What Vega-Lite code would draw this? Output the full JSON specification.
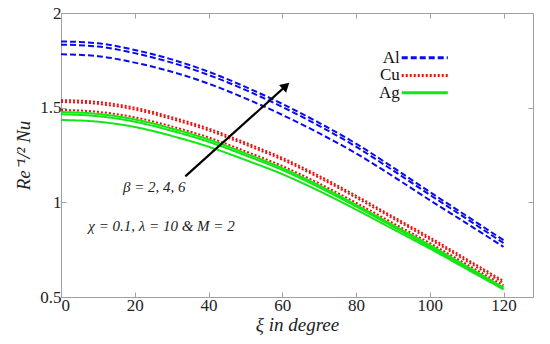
{
  "$schema": "https://vega.github.io/schema/vega-lite/v6.json",
  "width": 472,
  "height": 284,
  "autosize": {"type": "none"},
  "padding": {"left": 61, "top": 13, "right": 17, "bottom": 47},
  "background": "white",
  "config": {
    "view": {"stroke": null}
  },
  "datasets": {
    "curves": [
      {"xi": 0, "Nu": 1.85, "metal": "Al", "beta": 6},
      {"xi": 10, "Nu": 1.84, "metal": "Al", "beta": 6},
      {"xi": 20, "Nu": 1.805, "metal": "Al", "beta": 6},
      {"xi": 30, "Nu": 1.755, "metal": "Al", "beta": 6},
      {"xi": 40, "Nu": 1.69, "metal": "Al", "beta": 6},
      {"xi": 50, "Nu": 1.61, "metal": "Al", "beta": 6},
      {"xi": 60, "Nu": 1.52, "metal": "Al", "beta": 6},
      {"xi": 70, "Nu": 1.42, "metal": "Al", "beta": 6},
      {"xi": 80, "Nu": 1.31, "metal": "Al", "beta": 6},
      {"xi": 90, "Nu": 1.185, "metal": "Al", "beta": 6},
      {"xi": 100, "Nu": 1.055, "metal": "Al", "beta": 6},
      {"xi": 110, "Nu": 0.928, "metal": "Al", "beta": 6},
      {"xi": 120, "Nu": 0.8, "metal": "Al", "beta": 6},
      {"xi": 0, "Nu": 1.833, "metal": "Al", "beta": 4},
      {"xi": 10, "Nu": 1.823, "metal": "Al", "beta": 4},
      {"xi": 20, "Nu": 1.788, "metal": "Al", "beta": 4},
      {"xi": 30, "Nu": 1.738, "metal": "Al", "beta": 4},
      {"xi": 40, "Nu": 1.673, "metal": "Al", "beta": 4},
      {"xi": 50, "Nu": 1.594, "metal": "Al", "beta": 4},
      {"xi": 60, "Nu": 1.504, "metal": "Al", "beta": 4},
      {"xi": 70, "Nu": 1.404, "metal": "Al", "beta": 4},
      {"xi": 80, "Nu": 1.294, "metal": "Al", "beta": 4},
      {"xi": 90, "Nu": 1.169, "metal": "Al", "beta": 4},
      {"xi": 100, "Nu": 1.04, "metal": "Al", "beta": 4},
      {"xi": 110, "Nu": 0.913, "metal": "Al", "beta": 4},
      {"xi": 120, "Nu": 0.785, "metal": "Al", "beta": 4},
      {"xi": 0, "Nu": 1.782, "metal": "Al", "beta": 2},
      {"xi": 10, "Nu": 1.772, "metal": "Al", "beta": 2},
      {"xi": 20, "Nu": 1.738, "metal": "Al", "beta": 2},
      {"xi": 30, "Nu": 1.69, "metal": "Al", "beta": 2},
      {"xi": 40, "Nu": 1.627, "metal": "Al", "beta": 2},
      {"xi": 50, "Nu": 1.549, "metal": "Al", "beta": 2},
      {"xi": 60, "Nu": 1.462, "metal": "Al", "beta": 2},
      {"xi": 70, "Nu": 1.365, "metal": "Al", "beta": 2},
      {"xi": 80, "Nu": 1.259, "metal": "Al", "beta": 2},
      {"xi": 90, "Nu": 1.138, "metal": "Al", "beta": 2},
      {"xi": 100, "Nu": 1.012, "metal": "Al", "beta": 2},
      {"xi": 110, "Nu": 0.889, "metal": "Al", "beta": 2},
      {"xi": 120, "Nu": 0.765, "metal": "Al", "beta": 2},
      {"xi": 0, "Nu": 1.54, "metal": "Cu", "beta": 6},
      {"xi": 10, "Nu": 1.53, "metal": "Cu", "beta": 6},
      {"xi": 20, "Nu": 1.5, "metal": "Cu", "beta": 6},
      {"xi": 30, "Nu": 1.45, "metal": "Cu", "beta": 6},
      {"xi": 40, "Nu": 1.39, "metal": "Cu", "beta": 6},
      {"xi": 50, "Nu": 1.315, "metal": "Cu", "beta": 6},
      {"xi": 60, "Nu": 1.235, "metal": "Cu", "beta": 6},
      {"xi": 70, "Nu": 1.14, "metal": "Cu", "beta": 6},
      {"xi": 80, "Nu": 1.035, "metal": "Cu", "beta": 6},
      {"xi": 90, "Nu": 0.925, "metal": "Cu", "beta": 6},
      {"xi": 100, "Nu": 0.815, "metal": "Cu", "beta": 6},
      {"xi": 110, "Nu": 0.7, "metal": "Cu", "beta": 6},
      {"xi": 120, "Nu": 0.585, "metal": "Cu", "beta": 6},
      {"xi": 0, "Nu": 1.53, "metal": "Cu", "beta": 4},
      {"xi": 10, "Nu": 1.52, "metal": "Cu", "beta": 4},
      {"xi": 20, "Nu": 1.49, "metal": "Cu", "beta": 4},
      {"xi": 30, "Nu": 1.44, "metal": "Cu", "beta": 4},
      {"xi": 40, "Nu": 1.38, "metal": "Cu", "beta": 4},
      {"xi": 50, "Nu": 1.305, "metal": "Cu", "beta": 4},
      {"xi": 60, "Nu": 1.225, "metal": "Cu", "beta": 4},
      {"xi": 70, "Nu": 1.13, "metal": "Cu", "beta": 4},
      {"xi": 80, "Nu": 1.025, "metal": "Cu", "beta": 4},
      {"xi": 90, "Nu": 0.915, "metal": "Cu", "beta": 4},
      {"xi": 100, "Nu": 0.805, "metal": "Cu", "beta": 4},
      {"xi": 110, "Nu": 0.69, "metal": "Cu", "beta": 4},
      {"xi": 120, "Nu": 0.575, "metal": "Cu", "beta": 4},
      {"xi": 0, "Nu": 1.488, "metal": "Cu", "beta": 2},
      {"xi": 10, "Nu": 1.478, "metal": "Cu", "beta": 2},
      {"xi": 20, "Nu": 1.449, "metal": "Cu", "beta": 2},
      {"xi": 30, "Nu": 1.401, "metal": "Cu", "beta": 2},
      {"xi": 40, "Nu": 1.343, "metal": "Cu", "beta": 2},
      {"xi": 50, "Nu": 1.27, "metal": "Cu", "beta": 2},
      {"xi": 60, "Nu": 1.192, "metal": "Cu", "beta": 2},
      {"xi": 70, "Nu": 1.1, "metal": "Cu", "beta": 2},
      {"xi": 80, "Nu": 0.998, "metal": "Cu", "beta": 2},
      {"xi": 90, "Nu": 0.891, "metal": "Cu", "beta": 2},
      {"xi": 100, "Nu": 0.785, "metal": "Cu", "beta": 2},
      {"xi": 110, "Nu": 0.673, "metal": "Cu", "beta": 2},
      {"xi": 120, "Nu": 0.562, "metal": "Cu", "beta": 2},
      {"xi": 0, "Nu": 1.477, "metal": "Ag", "beta": 6},
      {"xi": 10, "Nu": 1.467, "metal": "Ag", "beta": 6},
      {"xi": 20, "Nu": 1.438, "metal": "Ag", "beta": 6},
      {"xi": 30, "Nu": 1.39, "metal": "Ag", "beta": 6},
      {"xi": 40, "Nu": 1.332, "metal": "Ag", "beta": 6},
      {"xi": 50, "Nu": 1.259, "metal": "Ag", "beta": 6},
      {"xi": 60, "Nu": 1.181, "metal": "Ag", "beta": 6},
      {"xi": 70, "Nu": 1.089, "metal": "Ag", "beta": 6},
      {"xi": 80, "Nu": 0.987, "metal": "Ag", "beta": 6},
      {"xi": 90, "Nu": 0.88, "metal": "Ag", "beta": 6},
      {"xi": 100, "Nu": 0.774, "metal": "Ag", "beta": 6},
      {"xi": 110, "Nu": 0.662, "metal": "Ag", "beta": 6},
      {"xi": 120, "Nu": 0.551, "metal": "Ag", "beta": 6},
      {"xi": 0, "Nu": 1.465, "metal": "Ag", "beta": 4},
      {"xi": 10, "Nu": 1.455, "metal": "Ag", "beta": 4},
      {"xi": 20, "Nu": 1.426, "metal": "Ag", "beta": 4},
      {"xi": 30, "Nu": 1.378, "metal": "Ag", "beta": 4},
      {"xi": 40, "Nu": 1.32, "metal": "Ag", "beta": 4},
      {"xi": 50, "Nu": 1.248, "metal": "Ag", "beta": 4},
      {"xi": 60, "Nu": 1.171, "metal": "Ag", "beta": 4},
      {"xi": 70, "Nu": 1.079, "metal": "Ag", "beta": 4},
      {"xi": 80, "Nu": 0.978, "metal": "Ag", "beta": 4},
      {"xi": 90, "Nu": 0.872, "metal": "Ag", "beta": 4},
      {"xi": 100, "Nu": 0.765, "metal": "Ag", "beta": 4},
      {"xi": 110, "Nu": 0.654, "metal": "Ag", "beta": 4},
      {"xi": 120, "Nu": 0.543, "metal": "Ag", "beta": 4},
      {"xi": 0, "Nu": 1.435, "metal": "Ag", "beta": 2},
      {"xi": 10, "Nu": 1.426, "metal": "Ag", "beta": 2},
      {"xi": 20, "Nu": 1.398, "metal": "Ag", "beta": 2},
      {"xi": 30, "Nu": 1.351, "metal": "Ag", "beta": 2},
      {"xi": 40, "Nu": 1.294, "metal": "Ag", "beta": 2},
      {"xi": 50, "Nu": 1.224, "metal": "Ag", "beta": 2},
      {"xi": 60, "Nu": 1.149, "metal": "Ag", "beta": 2},
      {"xi": 70, "Nu": 1.06, "metal": "Ag", "beta": 2},
      {"xi": 80, "Nu": 0.962, "metal": "Ag", "beta": 2},
      {"xi": 90, "Nu": 0.859, "metal": "Ag", "beta": 2},
      {"xi": 100, "Nu": 0.756, "metal": "Ag", "beta": 2},
      {"xi": 110, "Nu": 0.648, "metal": "Ag", "beta": 2},
      {"xi": 120, "Nu": 0.54, "metal": "Ag", "beta": 2}
    ],
    "legend": [
      {"metal": "Al", "x1": 92.4, "x2": 104.9, "y": 1.763},
      {"metal": "Cu", "x1": 92.4, "x2": 104.9, "y": 1.67},
      {"metal": "Ag", "x1": 92.4, "x2": 104.9, "y": 1.579}
    ],
    "arrow": [
      {"x1": 33.7, "y1": 1.137, "x2": 61.0, "y2": 1.615}
    ],
    "head": [
      {"x": 61.0, "y": 1.615}
    ],
    "notes": [
      {"x": 16.8, "y": 1.08, "label": "β = 2, 4, 6"},
      {"x": 7.4, "y": 0.874, "label": "χ = 0.1, λ = 10 & M = 2"}
    ]
  },
  "layer": [
    {
      "data": {"name": "curves"},
      "mark": {"type": "line", "strokeWidth": 2, "interpolate": "monotone"},
      "encoding": {
        "x": {"field": "xi", "type": "quantitative",
              "scale": {"domain": [0, 128], "nice": false, "zero": false},
              "axis": {"orient": "bottom", "values": [0, 20, 40, 60, 80, 100, 120], "format": "d", "grid": false,
                       "domainColor": "#a0a0a0", "tickColor": "#a0a0a0", "tickSize": -5,
                       "labelPadding": 5, "labelFont": "Liberation Serif", "labelFontSize": 17, "labelColor": "#222222",
                       "title": "ξ in degree", "titlePadding": 2, "titleFont": "Liberation Serif", "titleFontStyle": "italic", "titleFontWeight": "normal", "titleFontSize": 19, "titleColor": "#222222"}},
        "y": {"field": "Nu", "type": "quantitative",
              "scale": {"domain": [0.5, 2], "nice": false, "zero": false},
              "axis": {"orient": "left", "values": [0.5, 1, 1.5, 2], "format": "~g", "grid": false,
                       "domainColor": "#a0a0a0", "tickColor": "#a0a0a0", "tickSize": -5,
                       "labelPadding": 5, "labelFont": "Liberation Serif", "labelFontSize": 17, "labelColor": "#222222",
                       "title": "Re⁻¹/² Nu", "titlePadding": 6, "titleFont": "Liberation Serif", "titleFontStyle": "italic", "titleFontWeight": "normal", "titleFontSize": 19, "titleColor": "#222222"}},
        "color": {"field": "metal", "type": "nominal",
                  "scale": {"domain": ["Al", "Cu", "Ag"], "range": ["#0a0aee", "#ee1010", "#14e614"]},
                  "legend": null},
        "strokeDash": {"field": "metal", "type": "nominal",
                  "scale": {"domain": ["Al", "Cu", "Ag"], "range": [[6, 3], [2, 2], [1, 0]]},
                  "legend": null},
        "detail": {"field": "beta", "type": "nominal"}
      }
    },
    {
      "data": {"name": "legend"},
      "mark": {"type": "rule", "strokeWidth": 3},
      "encoding": {
        "x": {"field": "x1", "type": "quantitative",
              "axis": {"orient": "top", "values": [0, 20, 40, 60, 80, 100, 120], "labels": false, "title": null, "grid": false,
                       "domainColor": "#a0a0a0", "tickColor": "#a0a0a0", "tickSize": -5}},
        "x2": {"field": "x2"},
        "y": {"field": "y", "type": "quantitative",
              "axis": {"orient": "right", "values": [0.5, 1, 1.5, 2], "labels": false, "title": null, "grid": false,
                       "domainColor": "#a0a0a0", "tickColor": "#a0a0a0", "tickSize": -5}},
        "color": {"field": "metal", "type": "nominal", "legend": null},
        "strokeDash": {"field": "metal", "type": "nominal", "legend": null}
      }
    },
    {
      "data": {"name": "legend"},
      "mark": {"type": "text", "align": "right", "baseline": "middle", "font": "Liberation Serif", "fontSize": 17, "dx": -2, "color": "#111111"},
      "encoding": {
        "x": {"field": "x1", "type": "quantitative", "axis": null},
        "y": {"field": "y", "type": "quantitative", "axis": null},
        "text": {"field": "metal"}
      }
    },
    {
      "data": {"name": "arrow"},
      "mark": {"type": "rule", "strokeWidth": 2.2, "color": "black"},
      "encoding": {
        "x": {"field": "x1", "type": "quantitative", "axis": null},
        "y": {"field": "y1", "type": "quantitative", "axis": null},
        "x2": {"field": "x2"},
        "y2": {"field": "y2"}
      }
    },
    {
      "data": {"name": "head"},
      "mark": {"type": "point", "shape": "triangle-up", "filled": true, "color": "black", "size": 110, "angle": 48, "opacity": 1},
      "encoding": {
        "x": {"field": "x", "type": "quantitative", "axis": null},
        "y": {"field": "y", "type": "quantitative", "axis": null}
      }
    },
    {
      "data": {"name": "notes"},
      "mark": {"type": "text", "align": "left", "baseline": "middle", "font": "Liberation Serif", "fontStyle": "italic", "fontSize": 15, "color": "#222222"},
      "encoding": {
        "x": {"field": "x", "type": "quantitative", "axis": null},
        "y": {"field": "y", "type": "quantitative", "axis": null},
        "text": {"field": "label"}
      }
    }
  ],
  "resolve": {"axis": {"x": "independent", "y": "independent"}}
}
